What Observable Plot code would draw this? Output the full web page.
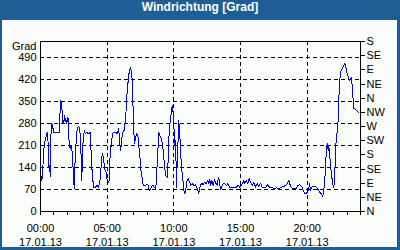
<!DOCTYPE html>
<html>
<head>
<meta charset="utf-8">
<script src="https://cdn.jsdelivr.net/npm/d3@7"></script>
<script src="https://cdn.jsdelivr.net/npm/@observablehq/plot@0.6"></script>
<style>
  html, body { margin: 0; padding: 0; background: #1e5e94; }
  #wrap { position: relative; width: 400px; height: 250px; background: #1e5e94; overflow: hidden; }
  #title { position: absolute; left: 0; top: 0; width: 400px; height: 20px; line-height: 20px;
           color: #fff; font: bold 12px "Liberation Sans", Arial, sans-serif; text-align: center; }
  #panel { position: absolute; left: 2px; top: 20px; width: 395px; height: 227px; background: #fbfdfb; }
  #chart { position: absolute; left: 0; top: 20px; width: 400px; }
</style>
</head>
<body>
<div id="wrap">
  <div id="title">Windrichtung [Grad]</div>
  <div id="panel"></div>
  <div id="chart"></div>
</div>
<script>
// time of each reading, minutes after midnight (17.01.13)
const minutes = [3,6,9,14,18,21,28,33,36,41,44,46,51,55,60,84,86,89,91,96,100,104,108,111,114,118,123,126,129,134,136,141,144,149,152,156,161,165,171,177,180,183,186,189,192,197,201,208,216,224,226,231,235,239,246,253,261,269,273,276,280,287,291,296,300,305,309,314,318,324,330,338,345,
352,357,361,365,370,377,381,387,390,395,399,404,408,413,415,419,422,424,428,432,438,442,447,451,458,462,469,477,483,487,492,498,505,513,519,523,528,532,537,543,549,554,558,563,570,573,576,579,584,588,593,597,600,603,608,612,615,620,622,627,631,636,640,645,649,654,660,665,671,676,683,690,698,
708,712,717,725,732,739,746,753,757,762,766,771,777,783,789,795,801,806,810,818,825,837,843,852,863,873,882,890,897,905,910,915,919,926,933,939,945,953,960,968,975,982,990,998,1005,1014,1023,1032,1043,1053,1062,1072,1083,1095,1104,1110,1117,
1124,1130,1140,1151,1157,1166,1175,1182,1189,1197,1205,1211,1215,1221,1227,1234,1242,1250,1257,1265,1270,1275,1279,1283,1286,1290,1295,1297,1302,1306,1311,1315,1320,1323,1326,1329,1332,1337,1340,1342,1346,1350,1358,1365,1369,1374,1378,1385,1391,1395,1400,1403,1407,1410,1418,1425,1430];

// wind direction in degrees (unwrapped, 0..540)
const degrees = [111,99,115,189,215,226,247,252,141,146,111,236,279,268,252,252,284,332,353,332,284,279,305,284,295,279,300,284,210,200,210,200,173,104,72,173,226,263,270,263,215,173,99,194,226,258,247,252,247,252,215,141,104,77,75,83,77,104,146,173,184,146,130,125,99,93,99,189,210,247,252,252,247,
263,215,194,226,252,258,284,337,385,417,443,456,449,417,359,284,215,220,236,247,242,210,178,136,104,83,81,85,87,72,67,77,83,77,72,125,189,252,242,231,215,178,146,115,109,136,200,252,290,311,337,311,284,210,226,77,157,242,290,242,178,130,109,67,56,72,99,104,93,83,88,83,85,
69,56,77,90,86,93,88,99,88,101,83,99,83,101,90,83,109,93,69,83,90,83,88,77,75,77,77,83,77,86,90,99,88,99,88,104,93,83,93,77,88,80,90,77,75,77,86,75,77,72,75,72,77,80,83,88,99,
83,75,72,72,83,85,80,67,56,58,67,88,67,77,80,80,77,69,61,56,48,67,99,141,194,215,194,210,173,141,109,88,75,104,152,210,242,258,300,353,406,443,454,465,470,459,443,427,417,422,427,390,353,327,324,319,314];

const leftTicks = [0,70,140,210,280,350,420,490];
const compassTicks = [0,45,90,135,180,225,270,315,360,405,450,495,540];
const compassLabels = ["N","NE","E","SE","S","SW","W","NW","N","NE","E","SE","S"];
const majorHours = [0,5,10,15,20];
const timeLabels = ["00:00","05:00","10:00","15:00","20:00"];
const dateLabel = "17.01.13";
const hourTicks = d3.range(0, 25);
const yLabel = "Grad";

const data = minutes.map((m, i) => ({h: m / 60, deg: degrees[i]}));
const timeMap = new Map(majorHours.map((h, i) => [h, timeLabels[i]]));
const compassMap = new Map(compassTicks.map((v, i) => [v, compassLabels[i]]));
const dash = {stroke: "black", strokeOpacity: 1, strokeWidth: 1, strokeDasharray: "4,3", shapeRendering: "crispEdges"};

const chart = Plot.plot({
  width: 400,
  height: 230,
  marginLeft: 40,
  marginRight: 40,
  marginTop: 21,
  marginBottom: 39,
  style: {background: "transparent", fontFamily: "'Liberation Sans', Arial, sans-serif", fontSize: "11px", color: "black", overflow: "visible"},
  x: {domain: [0, 24]},
  y: {domain: [0, 540]},
  marks: [
    Plot.gridY(leftTicks.filter(v => v > 0), dash),
    Plot.gridX(majorHours.filter(h => h > 0), dash),
    Plot.line(data, {x: "h", y: "deg", stroke: "#0000ff", strokeWidth: 1, shapeRendering: "crispEdges"}),
    Plot.frame({stroke: "black", shapeRendering: "crispEdges"}),
    Plot.axisY(leftTicks, {anchor: "left", tickSize: 0, tickPadding: 4, label: null, fill: "black"}),
    Plot.axisY(compassTicks, {anchor: "right", tickSize: 4, tickPadding: 2, label: null, fill: "black",
      tickFormat: d => compassMap.get(d), shapeRendering: "crispEdges"}),
    Plot.axisX(hourTicks, {anchor: "bottom", tickSize: 4, tickFormat: () => "", label: null, shapeRendering: "crispEdges"}),
    Plot.axisX(majorHours, {anchor: "bottom", tickSize: 0, tickPadding: 10, label: null, fill: "black",
      lineHeight: 1.32, tickFormat: d => `${timeMap.get(d)}\n${dateLabel}`}),
    Plot.text([yLabel], {frameAnchor: "top-left", textAnchor: "end", lineAnchor: "middle", dx: -4, dy: 5, fill: "black"})
  ]
});
document.getElementById("chart").appendChild(chart);
</script>
</body>
</html>
